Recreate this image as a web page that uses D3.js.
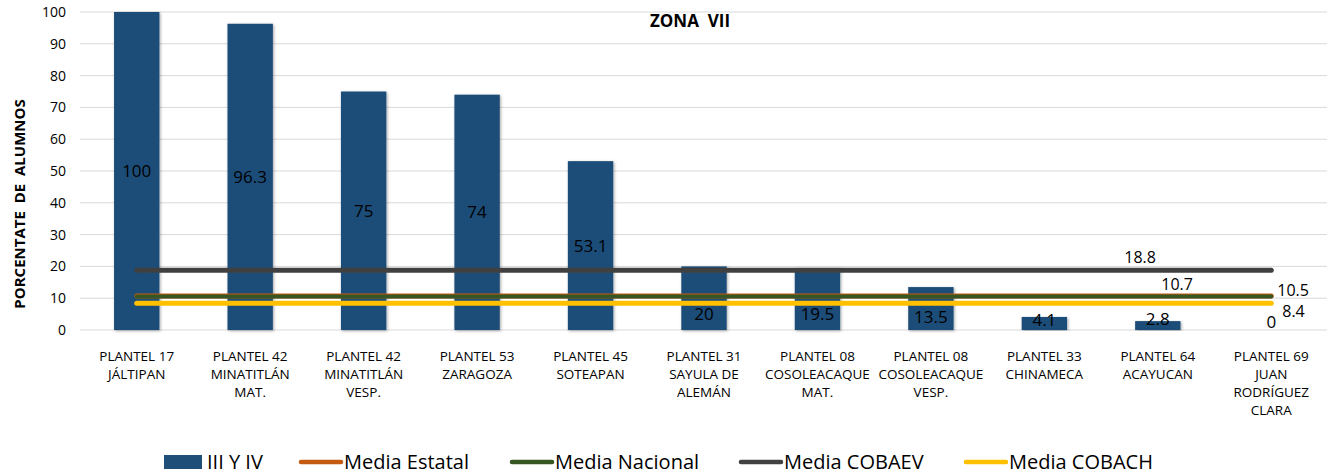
<!DOCTYPE html>
<html>
<head>
<meta charset="utf-8">
<script src="https://cdn.jsdelivr.net/npm/d3@7"></script>
<style>
  body { margin: 0; background: #fff; }
  text { font-family: "Open Sans", sans-serif; fill: #000; white-space: pre; }
</style>
</head>
<body>
<script>
var width = 1327,
    height = 476;

var categories = [
  ["PLANTEL 17", "JÁLTIPAN"],
  ["PLANTEL 42", "MINATITLÁN", "MAT."],
  ["PLANTEL 42", "MINATITLÁN", "VESP."],
  ["PLANTEL 53", "ZARAGOZA"],
  ["PLANTEL 45", "SOTEAPAN"],
  ["PLANTEL 31", "SAYULA DE", "ALEMÁN"],
  ["PLANTEL 08", "COSOLEACAQUE", "MAT."],
  ["PLANTEL 08", "COSOLEACAQUE", "VESP."],
  ["PLANTEL 33", "CHINAMECA"],
  ["PLANTEL 64", "ACAYUCAN"],
  ["PLANTEL 69", "JUAN", "RODRÍGUEZ", "CLARA"]
];
var values = [100, 96.3, 75, 74, 53.1, 20, 19.5, 13.5, 4.1, 2.8, 0];
// where each bar label sits, in axis units
var labelAt = [50, 48.2, 37.5, 37, 26.5, 5, 5, 4.2, 3, 3.5, 2.5];

var mediaEstatal = 10.7,
    mediaNacional = 10.5,
    mediaCobaev = 18.8,
    mediaCobach = 8.4;

var yTicks = [0, 10, 20, 30, 40, 50, 60, 70, 80, 90, 100];

var svg = d3.select("body").append("svg")
    .attr("width", width)
    .attr("height", height);

var defs = svg.append("defs");
var f = defs.append("filter").attr("id", "shadow")
    .attr("x", "-20%").attr("y", "-5%").attr("width", "140%").attr("height", "110%");
f.append("feDropShadow").attr("dx", 1).attr("dy", 1).attr("stdDeviation", 1.5)
    .attr("flood-color", "#000").attr("flood-opacity", 0.35);

var x = d3.scaleBand()
    .domain(d3.range(categories.length))
    .range([80, 1328])
    .paddingInner(0.6)
    .paddingOuter(0.3);

var xc = function(i) { return x(i) + x.bandwidth() / 2; };

var y = d3.scaleLinear()
    .domain([0, 100])
    .range([330, 12]);

// gridlines
svg.append("g")
  .selectAll("line")
    .data(yTicks)
  .enter().append("line")
    .attr("x1", 80)
    .attr("x2", 1327)
    .attr("y1", function(d) { return y(d); })
    .attr("y2", function(d) { return y(d); })
    .attr("stroke", "#d9d9d9")
    .attr("stroke-width", 1);

var yAxis = svg.append("g")
    .attr("transform", "translate(80,0)")
    .call(d3.axisLeft(y).tickValues(yTicks).tickSize(0).tickPadding(14));
yAxis.select(".domain").remove();
yAxis.selectAll("text")
    .style("font-family", "'Open Sans', sans-serif")
    .style("font-size", "14px")
    .attr("fill", "#000");

svg.append("text")
    .attr("transform", "translate(25,204) rotate(-90)")
    .attr("text-anchor", "middle")
    .style("font-weight", "bold")
    .style("font-size", "15px")
    .text("PORCENTATE  DE  ALUMNOS");

svg.append("text")
    .attr("x", 690)
    .attr("y", 27)
    .attr("text-anchor", "middle")
    .style("font-weight", "bold")
    .style("font-size", "17px")
    .text("ZONA  VII");

// bars
svg.append("g")
  .selectAll("rect")
    .data(values)
  .enter().append("rect")
    .attr("x", function(d, i) { return x(i); })
    .attr("width", x.bandwidth())
    .attr("y", function(d) { return y(d); })
    .attr("height", function(d) { return y(0) - y(d); })
    .attr("fill", "#1f4e79")
    .attr("filter", "url(#shadow)");

// mean lines
var means = [
  { name: "Media Estatal", v: mediaEstatal, color: "#c55a11", w: 5 },
  { name: "Media Nacional", v: mediaNacional, color: "#375623", w: 4 },
  { name: "Media COBAEV", v: mediaCobaev, color: "#404040", w: 5 },
  { name: "Media COBACH", v: mediaCobach, color: "#ffc000", w: 5 }
];
var lineGen = d3.line()
    .x(function(d, i) { return xc(i); })
    .y(function(d) { return y(d); });

svg.append("g")
  .selectAll("path")
    .data(means)
  .enter().append("path")
    .attr("d", function(m) { return lineGen(values.map(function() { return m.v; })); })
    .attr("fill", "none")
    .attr("stroke", function(m) { return m.color; })
    .attr("stroke-width", function(m) { return m.w; })
    .attr("stroke-linecap", "round");

// bar labels
svg.append("g")
  .selectAll("text")
    .data(values)
  .enter().append("text")
    .attr("x", function(d, i) { return xc(i); })
    .attr("y", function(d, i) { return y(labelAt[i]); })
    .attr("dy", "0.35em")
    .attr("text-anchor", "middle")
    .style("font-size", "17px")
    .text(function(d) { return d; });

// mean labels near the last point
var last = categories.length - 1;
var meanLabels = [
  { v: mediaCobaev, dx: -147, dy: -13 },
  { v: mediaEstatal, dx: -110, dy: -12 },
  { v: mediaNacional, dx: 6, dy: -6 },
  { v: mediaCobach, dx: 11, dy: 8 }
];
svg.append("g")
  .selectAll("text")
    .data(meanLabels)
  .enter().append("text")
    .attr("x", function(d) { return xc(last) + d.dx; })
    .attr("y", function(d) { return y(d.v) + d.dy; })
    .attr("dy", "0.35em")
    .style("font-size", "16px")
    .text(function(d) { return d.v; });

// category labels
var cat = svg.append("g")
  .selectAll("text")
    .data(categories)
  .enter().append("text")
    .attr("x", function(d, i) { return xc(i); })
    .attr("y", 361)
    .attr("text-anchor", "middle")
    .style("font-size", "13.5px");
cat.selectAll("tspan")
    .data(function(d) { return d; })
  .enter().append("tspan")
    .attr("x", function() { return this.parentNode.getAttribute("x"); })
    .attr("dy", function(d, i) { return i ? 18 : 0; })
    .text(function(d) { return d; });

// legend
var legendItems = [
  { name: "III Y IV", color: "#1f4e79", box: true, x: 164 },
  { name: "Media Estatal", color: "#c55a11", x: 299 },
  { name: "Media Nacional", color: "#375623", x: 510 },
  { name: "Media COBAEV", color: "#404040", x: 739 },
  { name: "Media COBACH", color: "#ffc000", x: 964 }
];
var lg = svg.append("g")
  .selectAll("g")
    .data(legendItems)
  .enter().append("g")
    .attr("transform", function(d) { return "translate(" + d.x + ",462)"; });
lg.filter(function(d) { return d.box; }).append("rect")
    .attr("x", 0).attr("y", -7).attr("width", 38).attr("height", 14)
    .attr("fill", function(d) { return d.color; });
lg.filter(function(d) { return !d.box; }).append("line")
    .attr("x1", 2).attr("x2", 42).attr("y1", 0).attr("y2", 0)
    .attr("stroke", function(d) { return d.color; })
    .attr("stroke-width", 4.5)
    .attr("stroke-linecap", "round");
lg.append("text")
    .attr("x", function(d) { return d.box ? 43 : 45; })
    .attr("y", 0)
    .attr("dy", "0.35em")
    .style("font-size", "20px")
    .text(function(d) { return d.name; });
</script>
</body>
</html>
